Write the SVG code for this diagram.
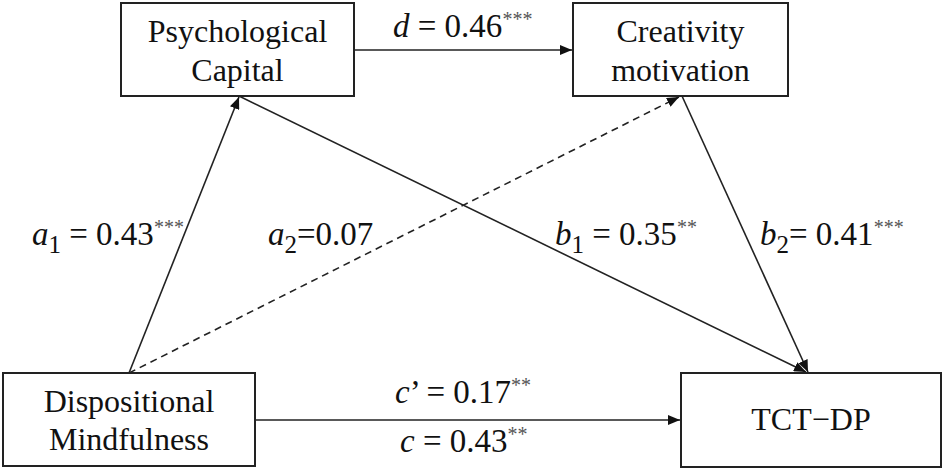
<svg xmlns="http://www.w3.org/2000/svg" width="945" height="470" viewBox="0 0 945 470">
<style>
text{font-family:"Liberation Serif","Times New Roman",serif;fill:#111}
.node{font-size:32px;text-anchor:middle}
.lbl{font-size:33px}
.box{fill:#fff;stroke:#222;stroke-width:2}
.ln{stroke:#222;stroke-width:1.6;fill:none}
.dash{stroke-dasharray:7,5}
.it{font-style:italic}
.sub{font-size:25px}
.sup{font-size:20px;fill:#555}
</style>
<defs>
<marker id="ah" viewBox="0 0 12 10" refX="12" refY="5" markerWidth="12" markerHeight="10" markerUnits="userSpaceOnUse" orient="auto">
<path d="M0,0 L12,5 L0,10 z" fill="#111"/>
</marker>
</defs>
<rect width="945" height="470" fill="#fff"/>
<g id="connectors">
<line class="ln" x1="354" y1="50" x2="572" y2="50" marker-end="url(#ah)"/>
<line class="ln" x1="129" y1="373" x2="239" y2="97" marker-end="url(#ah)"/>
<line class="ln dash" x1="129" y1="373" x2="679" y2="97" marker-end="url(#ah)"/>
<line class="ln" x1="239" y1="96" x2="806" y2="372" marker-end="url(#ah)"/>
<line class="ln" x1="682" y1="96" x2="808" y2="372" marker-end="url(#ah)"/>
<line class="ln" x1="255" y1="420" x2="680" y2="420" marker-end="url(#ah)"/>
</g>
<g id="psychological-capital">
<rect class="box" x="121" y="3" width="233" height="93"/>
<text class="node" x="237.5" y="42">Psychological</text>
<text class="node" x="237.5" y="81">Capital</text>
</g>
<g id="creativity-motivation">
<rect class="box" x="573" y="3" width="215" height="93"/>
<text class="node" x="680.5" y="42">Creativity</text>
<text class="node" x="680.5" y="81">motivation</text>
</g>
<g id="dispositional-mindfulness">
<rect class="box" x="3" y="373" width="252" height="93"/>
<text class="node" x="129" y="412">Dispositional</text>
<text class="node" x="129" y="450">Mindfulness</text>
</g>
<g id="tct-dp">
<rect class="box" x="681" y="373" width="260" height="94"/>
<text class="node" x="811" y="430">TCT−DP</text>
</g>
<g id="labels">
<text class="lbl" x="393" y="37"><tspan class="it">d</tspan> = 0.46<tspan class="sup" dy="-11">***</tspan></text>
<text class="lbl" x="32" y="245"><tspan class="it">a</tspan><tspan class="sub" dy="8">1</tspan><tspan dy="-8"> = 0.43</tspan><tspan class="sup" dy="-11">***</tspan></text>
<text class="lbl" x="268" y="245"><tspan class="it">a</tspan><tspan class="sub" dy="8">2</tspan><tspan dy="-8">=0.07</tspan></text>
<text class="lbl" x="555" y="245"><tspan class="it">b</tspan><tspan class="sub" dy="8">1</tspan><tspan dy="-8"> = 0.35</tspan><tspan class="sup" dy="-11">**</tspan></text>
<text class="lbl" x="760" y="245"><tspan class="it">b</tspan><tspan class="sub" dy="8">2</tspan><tspan dy="-8">= 0.41</tspan><tspan class="sup" dy="-11">***</tspan></text>
<text class="lbl" x="395" y="403"><tspan class="it">c</tspan>’ = 0.17<tspan class="sup" dy="-11">**</tspan></text>
<text class="lbl" x="400" y="452"><tspan class="it">c</tspan> = 0.43<tspan class="sup" dy="-11">**</tspan></text>
</g>
</svg>
